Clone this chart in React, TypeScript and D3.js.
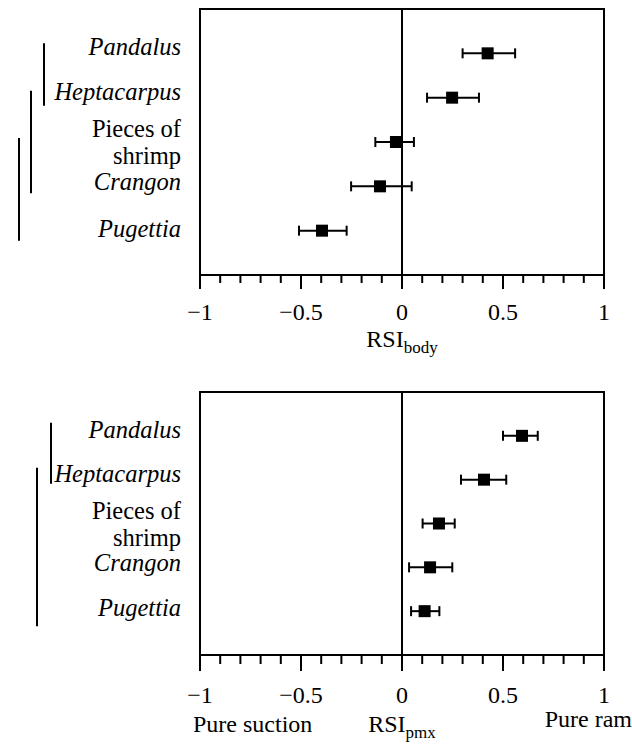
import React from "react";
import * as d3 from "d3";

const categories = ["Pandalus", "Heptacarpus", "Pieces of shrimp", "Crangon", "Pugettia"];
const italicCats = [true, true, false, true, true];

const bodyMean = [0.424, 0.248, -0.03, -0.109, -0.396];
const bodyLow = [0.3, 0.124, -0.132, -0.252, -0.51];
const bodyHigh = [0.56, 0.381, 0.059, 0.048, -0.274];

const pmxMean = [0.594, 0.406, 0.183, 0.139, 0.112];
const pmxLow = [0.5, 0.292, 0.102, 0.035, 0.045];
const pmxHigh = [0.672, 0.516, 0.261, 0.249, 0.185];

const bodyBrackets = [[0, 1], [1, 3], [2, 4]];
const pmxBrackets = [[0, 1], [1, 4]];

const majorTicks = [-1, -0.5, 0, 0.5, 1];
const tickLabels = ["\u22121", "\u22120.5", "0", "0.5", "1"];

const FONT = "Liberation Serif";
const serif = { fontFamily: FONT };

type PanelProps = {
  top: number;
  bottom: number;
  mean: number[];
  low: number[];
  high: number[];
  brackets: number[][];
  bracketX: number[];
  bracketPad: number[][];
  labelOffsets: number[];
  tickLen: [number, number];
  labelGap: number;
};

const x = d3.scaleLinear().domain([-1, 1]).range([200, 604]);

function Panel(p: PanelProps) {
  const y = d3
    .scalePoint<string>()
    .domain(categories)
    .range([p.top, p.bottom])
    .padding(1);
  const minor = d3.range(-10, 11).map((i) => i / 10);
  const labelX = 181;
  return (
    <g>
      <path
        d={`M${x(-1)},${p.bottom} L${x(-1)},${p.top} L${x(1)},${p.top} L${x(1)},${p.bottom} Z`}
        fill="none"
        stroke="#000"
        strokeWidth={2}
      />
      <line x1={x(0)} x2={x(0)} y1={p.top} y2={p.bottom} stroke="#000" strokeWidth={2} />
      {minor.map((t, i) => {
        const isMajor = majorTicks.some((m) => Math.abs(m - t) < 1e-9);
        return (
          <line
            key={i}
            x1={x(t)}
            x2={x(t)}
            y1={p.bottom}
            y2={p.bottom + (isMajor ? p.tickLen[0] : p.tickLen[1])}
            stroke="#000"
            strokeWidth={2}
          />
        );
      })}
      {majorTicks.map((t, i) => (
        <text key={i} x={x(t)} y={p.bottom + p.labelGap} textAnchor="middle" fontSize={24} style={serif}>
          {tickLabels[i]}
        </text>
      ))}
      {categories.map((c, i) => {
        const cy = y(c)!;
        return (
          <g key={c}>
            <line x1={x(p.low[i])} x2={x(p.high[i])} y1={cy} y2={cy} stroke="#000" strokeWidth={2} />
            <line x1={x(p.low[i])} x2={x(p.low[i])} y1={cy - 5} y2={cy + 5} stroke="#000" strokeWidth={2} />
            <line x1={x(p.high[i])} x2={x(p.high[i])} y1={cy - 5} y2={cy + 5} stroke="#000" strokeWidth={2} />
            <rect x={x(p.mean[i]) - 6} y={cy - 6} width={12} height={12} fill="#000" />
          </g>
        );
      })}
      {categories.map((c, i) => {
        const cy = y(c)!;
        if (c === "Pieces of shrimp") {
          return (
            <text key={c} textAnchor="end" fontSize={24.5} style={serif}>
              <tspan x={labelX} y={cy - 5}>Pieces of</tspan>
              <tspan x={labelX} y={cy + 22}>shrimp</tspan>
            </text>
          );
        }
        return (
          <text
            key={c}
            x={labelX}
            y={cy + p.labelOffsets[i]}
            textAnchor="end"
            fontSize={24.5}
            fontStyle={italicCats[i] ? "italic" : "normal"}
            style={serif}
          >
            {c}
          </text>
        );
      })}
      {p.brackets.map((b, i) => (
        <line
          key={i}
          x1={p.bracketX[i]}
          x2={p.bracketX[i]}
          y1={y(categories[b[0]])! - p.bracketPad[i][0]}
          y2={y(categories[b[1]])! + p.bracketPad[i][1]}
          stroke="#000"
          strokeWidth={2}
        />
      ))}
    </g>
  );
}

export default function App() {
  return (
    <svg width={632} height={744} style={{ position: "absolute", left: 0, top: 0, background: "#fff" }}>
      <Panel
        top={9}
        bottom={275}
        mean={bodyMean}
        low={bodyLow}
        high={bodyHigh}
        brackets={bodyBrackets}
        bracketX={[44, 31, 19]}
        bracketPad={[[10, 8], [7, 7], [4, 10]]}
        labelOffsets={[2, 2, 0, 4, 6]}
        tickLen={[14, 8]}
        labelGap={45}
      />
      <text x={x(0)} y={347} textAnchor="middle" fontSize={24} style={serif}>
        RSI
        <tspan fontSize={17} dy={6}>body</tspan>
      </text>
      <Panel
        top={392}
        bottom={655}
        mean={pmxMean}
        low={pmxLow}
        high={pmxHigh}
        brackets={pmxBrackets}
        bracketX={[51, 37]}
        bracketPad={[[13, 4], [12, 15]]}
        labelOffsets={[2, 2, 0, 4, 5]}
        tickLen={[16, 9]}
        labelGap={48}
      />
      <text x={x(0)} y={732} textAnchor="middle" fontSize={24} style={serif}>
        RSI
        <tspan fontSize={17} dy={6}>pmx</tspan>
      </text>
      <text x={193} y={732} fontSize={24} style={serif}>
        Pure suction
      </text>
      <text x={632} y={727} textAnchor="end" fontSize={24} style={serif}>
        Pure ram
      </text>
    </svg>
  );
}
